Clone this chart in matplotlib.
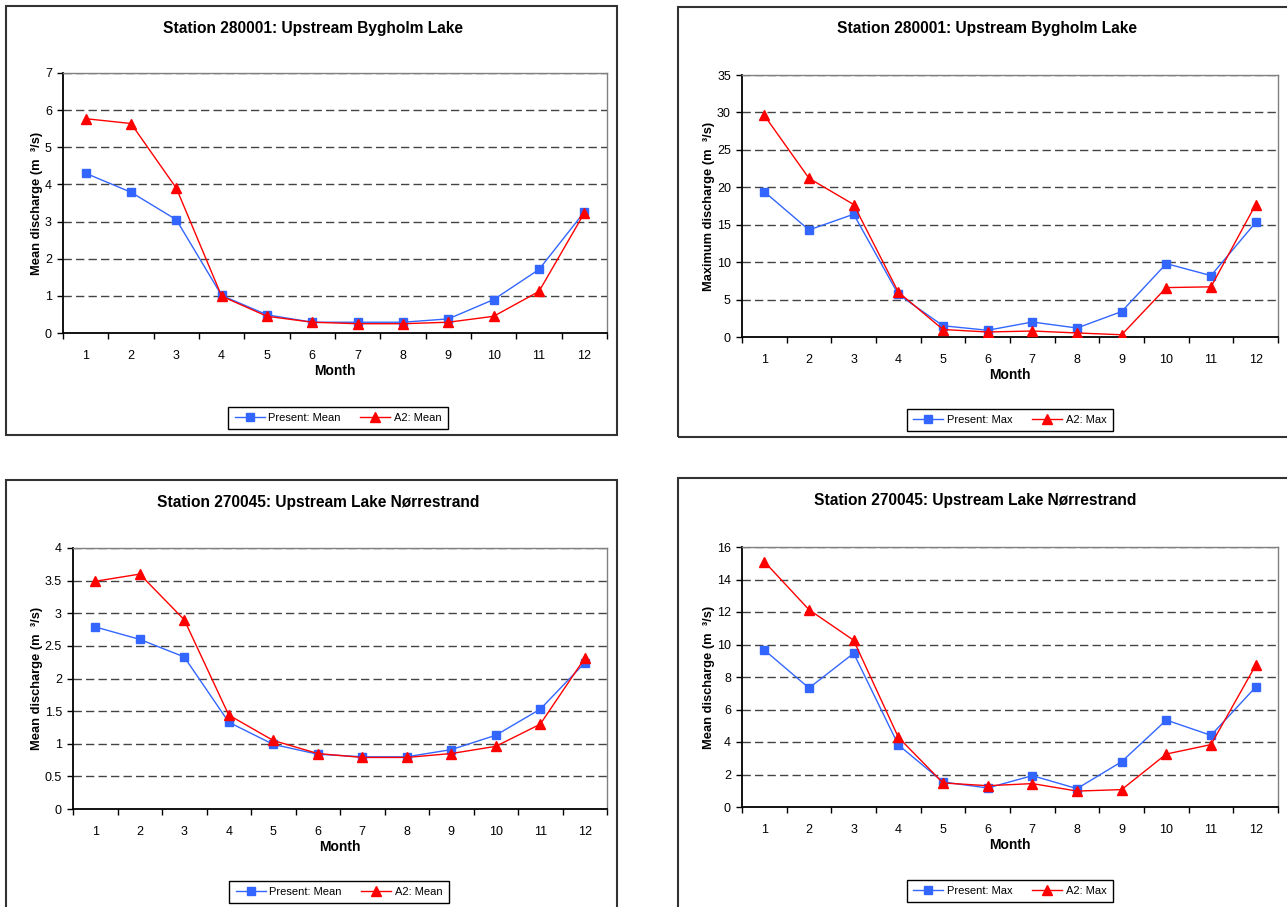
import numpy as np
import matplotlib
matplotlib.use("Agg")
import matplotlib.pyplot as plt
from matplotlib.patches import Rectangle
from matplotlib.ticker import FuncFormatter, FixedLocator

plt.rcParams['font.family'] = ['Liberation Sans', 'DejaVu Sans']

months = list(range(1, 13))

# station 280001, mean discharge
bygholm_mean_present = [4.30, 3.79, 3.05, 1.01, 0.49, 0.29, 0.29, 0.29, 0.38, 0.90, 1.71, 3.26]
bygholm_mean_a2 = [5.77, 5.64, 3.90, 0.99, 0.45, 0.29, 0.25, 0.25, 0.29, 0.45, 1.12, 3.23]

# station 280001, maximum discharge
bygholm_max_present = [19.4, 14.3, 16.4, 5.7, 1.5, 0.9, 2.0, 1.2, 3.4, 9.8, 8.2, 15.3]
bygholm_max_a2 = [29.6, 21.2, 17.7, 6.0, 1.0, 0.67, 0.8, 0.54, 0.3, 6.6, 6.7, 17.7]

# station 270045, mean discharge
norre_mean_present = [2.79, 2.60, 2.33, 1.33, 0.99, 0.84, 0.80, 0.80, 0.91, 1.13, 1.53, 2.24]
norre_mean_a2 = [3.49, 3.60, 2.90, 1.44, 1.05, 0.85, 0.79, 0.79, 0.85, 0.96, 1.30, 2.31]

# station 270045, maximum discharge
norre_max_present = [9.66, 7.32, 9.46, 3.82, 1.54, 1.17, 1.93, 1.13, 2.79, 5.35, 4.41, 7.38]
norre_max_a2 = [15.1, 12.14, 10.26, 4.29, 1.48, 1.31, 1.44, 0.98, 1.07, 3.26, 3.84, 8.72]

title_bygholm = "Station 280001: Upstream Bygholm Lake"
title_norre = "Station 270045: Upstream Lake Nørrestrand"

W, H = 1287, 907
BLUE = '#3366ff'
RED = '#ff0000'

fig = plt.figure(figsize=(W / 100, H / 100), dpi=100)
fig.patch.set_facecolor('white')


def fx(px):
    return px / W


def fy(py):
    return 1 - py / H


def draw_panel(box, plot, present, a2, ymax, ystep, ylabel, title, labels,
               title_x, ylabel_x, legend_xy):
    # outer chart border
    bx0, by0, bx1, by1 = box
    fig.patches.append(Rectangle((fx(bx0), fy(by1)), fx(bx1 - bx0), (by1 - by0) / H,
                                 transform=fig.transFigure, fill=False,
                                 edgecolor='#333333', linewidth=1.5, zorder=0))

    x0, y0, x1, y1 = plot
    ax = fig.add_axes([fx(x0), fy(y1), fx(x1 - x0), (y1 - y0) / H])
    ax.set_xlim(0.5, 12.5)
    ax.set_ylim(0, ymax)

    ax.plot(months, present, color=BLUE, lw=1.0, marker='s', ms=5.5,
            mec=BLUE, mfc=BLUE, label=labels[0], zorder=3)
    ax.plot(months, a2, color=RED, lw=1.0, marker='^', ms=7,
            mec=RED, mfc=RED, label=labels[1], zorder=4)

    yt = np.arange(0, ymax + ystep / 2, ystep)
    ax.set_yticks(yt)
    ax.yaxis.set_major_formatter(FuncFormatter(lambda v, p: '%g' % v))
    for v in yt[1:]:
        ax.axhline(v, color='#444444', lw=1.0, dashes=(6, 3), zorder=1)

    # category ticks sit between months, labels in the middle
    ax.xaxis.set_major_locator(FixedLocator(np.arange(0.5, 13, 1)))
    ax.xaxis.set_major_formatter(FuncFormatter(lambda v, p: ''))
    ax.xaxis.set_minor_locator(FixedLocator(months))
    ax.xaxis.set_minor_formatter(FuncFormatter(lambda v, p: '%d' % v))
    ax.tick_params(axis='x', which='major', length=4, width=1, direction='out')
    ax.tick_params(axis='x', which='minor', length=0, pad=12, labelsize=9)
    ax.tick_params(axis='y', length=4, width=1, direction='out', pad=4, labelsize=9)

    for s in ['left', 'bottom']:
        ax.spines[s].set_color('black')
        ax.spines[s].set_linewidth(1.3)
    for s in ['top', 'right']:
        ax.spines[s].set_color('#808080')
        ax.spines[s].set_linewidth(1.0)

    fig.text(fx(title_x), fy(by0 + 22), title, ha='center', va='center',
             fontsize=11.2, fontweight='bold')
    fig.text(fx((x0 + x1) / 2), fy(y1 + 38), 'Month', ha='center', va='center',
             fontsize=10, fontweight='bold')
    fig.text(fx(ylabel_x), fy((y0 + y1) / 2), ylabel, ha='center', va='center',
             rotation=90, fontsize=9.3, fontweight='bold')

    leg = ax.legend(loc='center', bbox_to_anchor=(fx(legend_xy[0]), fy(legend_xy[1])),
                    bbox_transform=fig.transFigure, ncol=2, fontsize=8,
                    frameon=True, fancybox=False, framealpha=1, edgecolor='black',
                    handlelength=2.7, handletextpad=0.35, columnspacing=1.7,
                    borderpad=0.55, borderaxespad=0)
    leg.get_frame().set_linewidth(1.0)
    return ax


draw_panel((6, 6, 617, 435), (63, 73, 607, 333),
           bygholm_mean_present, bygholm_mean_a2, 7, 1,
           'Mean discharge (m  ³/s)', title_bygholm,
           ['Present: Mean', 'A2: Mean'], 313, 37, (338, 418))

draw_panel((678, 7, 1295, 437), (742, 75, 1278, 337),
           bygholm_max_present, bygholm_max_a2, 35, 5,
           'Maximum discharge (m  ³/s)', title_bygholm,
           ['Present: Max', 'A2: Max'], 987, 709, (1010, 420))

draw_panel((6, 480, 617, 915), (73, 548, 607, 809),
           norre_mean_present, norre_mean_a2, 4, 0.5,
           'Mean discharge (m  ³/s)', title_norre,
           ['Present: Mean', 'A2: Mean'], 318, 37, (339, 892))

draw_panel((678, 478, 1295, 915), (742, 547, 1278, 807),
           norre_max_present, norre_max_a2, 16, 2,
           'Mean discharge (m  ³/s)', title_norre,
           ['Present: Max', 'A2: Max'], 975, 709, (1010, 891))

fig.savefig('out.png', dpi=100, facecolor='white')
